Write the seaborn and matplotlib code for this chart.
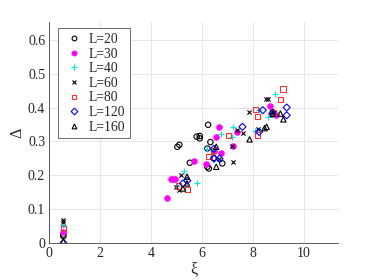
import numpy as np
import pandas as pd
import matplotlib
matplotlib.use("Agg")
import matplotlib.pyplot as plt
import seaborn as sns
from matplotlib.lines import Line2D

labels = ["L=20", "L=30", "L=40", "L=60", "L=80", "L=120", "L=160"]

x20 = [0.55, 0.55, 6.24, 5.79, 5.91, 5.91, 5.03, 5.11, 5.52, 6.33, 6.21, 6.27, 6.80, 6.46, 6.21, 8.78]
y20 = [0.025, 0.02, 0.349, 0.314, 0.316, 0.309, 0.284, 0.290, 0.237, 0.298, 0.225, 0.220, 0.235, 0.251, 0.279, 0.386]

x30 = [0.55, 4.64, 4.77, 4.86, 4.94, 5.69, 6.14, 6.65, 6.56, 6.46, 6.73, 7.22, 7.39, 8.69, 8.90]
y30 = [0.032, 0.133, 0.188, 0.189, 0.190, 0.243, 0.233, 0.343, 0.313, 0.271, 0.266, 0.287, 0.329, 0.405, 0.379]

x40 = [0.55, 5.29, 5.82, 6.21, 6.73, 7.22, 7.19, 8.24, 8.86, 8.60, 8.07, 5.03, 6.47]
y40 = [0.052, 0.213, 0.177, 0.279, 0.323, 0.343, 0.313, 0.392, 0.439, 0.371, 0.331, 0.168, 0.278]

x60 = [0.55, 0.55, 5.16, 4.99, 5.08, 7.18, 7.22, 7.37, 7.63, 7.85, 8.52, 8.60, 8.20, 8.78, 6.68]
y60 = [0.068, 0.062, 0.201, 0.166, 0.158, 0.285, 0.240, 0.335, 0.325, 0.386, 0.424, 0.424, 0.337, 0.386, 0.247]

x80 = [0.55, 5.08, 5.42, 6.27, 6.46, 7.03, 8.10, 8.17, 8.17, 8.82, 9.08, 9.18]
y80 = [0.043, 0.168, 0.158, 0.255, 0.273, 0.318, 0.394, 0.373, 0.319, 0.386, 0.424, 0.455]

x120 = [0.55, 5.25, 5.42, 6.47, 6.69, 6.46, 7.59, 8.39, 8.24, 8.76, 9.33, 9.33]
y120 = [0.0, 0.176, 0.184, 0.249, 0.249, 0.278, 0.343, 0.392, 0.328, 0.382, 0.400, 0.377]

x160 = [0.55, 5.41, 5.41, 5.25, 6.56, 6.56, 7.87, 8.46, 8.54, 8.78, 9.08, 9.20]
y160 = [0.005, 0.196, 0.176, 0.161, 0.284, 0.225, 0.306, 0.339, 0.343, 0.381, 0.382, 0.365]

xs = [x20, x30, x40, x60, x80, x120, x160]
ys = [y20, y30, y40, y60, y80, y120, y160]

# style: (marker, facecolor, edgecolor, size)
styles = [
    ("o", "none", "black", 15),
    ("o", "#ff00ff", "#ff00ff", 15),
    ("+", None, "#00e5e5", 20),
    ("x", None, "black", 9),
    ("s", "none", "#ff3030", 15),
    ("D", "none", "blue", 13),
    ("^", "none", "black", 15),
]

sns.set_style("whitegrid")
plt.rcParams["font.family"] = ["Liberation Serif", "DejaVu Serif"]
plt.rcParams["mathtext.fontset"] = "stix"

fig = plt.figure(figsize=(3.74, 2.8), dpi=100)
ax = fig.add_axes([0.132, 0.132, 0.772, 0.789])

handles = []
for x, y, lab, (m, fc, ec, sz) in zip(xs, ys, labels, styles):
    df = pd.DataFrame({"xi": x, "delta": y})
    if fc is None:
        sns.scatterplot(data=df, x="xi", y="delta", marker=m, color=ec, s=sz,
                        linewidth=0.8, ax=ax, zorder=3)
        handles.append(Line2D([], [], linestyle="none", marker=m, color=ec,
                              markersize=np.sqrt(sz) * 0.85, markeredgewidth=0.8, label=lab))
    else:
        sns.scatterplot(data=df, x="xi", y="delta", marker=m, s=sz,
                        facecolor=fc, edgecolor=ec, linewidth=0.8, ax=ax, zorder=3)
        handles.append(Line2D([], [], linestyle="none", marker=m,
                              markerfacecolor=fc, markeredgecolor=ec,
                              markersize=3.4, markeredgewidth=0.8, label=lab))

ax.set_xlim(0, 11.35)
ax.set_ylim(0, 0.652)
ax.set_xticks([0, 2, 4, 6, 8, 10])
ax.set_yticks([0, 0.1, 0.2, 0.3, 0.4, 0.5, 0.6])
ax.set_yticklabels(["0", "0.1", "0.2", "0.3", "0.4", "0.5", "0.6"])
ax.tick_params(labelsize=10, colors="#262626", length=0, pad=3)
ax.grid(True, color="#e6e6e6", linewidth=0.7)
for s in ["top", "right"]:
    ax.spines[s].set_visible(False)
for s in ["left", "bottom"]:
    ax.spines[s].set_color("#404040")
    ax.spines[s].set_linewidth(0.6)

ax.set_xlabel("ξ", fontsize=11.5, labelpad=1)
ax.set_ylabel("Δ", fontsize=11.5, labelpad=2)

leg = ax.legend(handles=handles, loc="upper left", bbox_to_anchor=(0.02, 0.985),
                fontsize=9.8, frameon=True, fancybox=False, framealpha=1,
                edgecolor="#555555", borderpad=0.35, labelspacing=0.12,
                handletextpad=0.3, handlelength=1.6, borderaxespad=0.2)
leg.get_frame().set_linewidth(0.6)

fig.savefig("out.png", dpi=100)
